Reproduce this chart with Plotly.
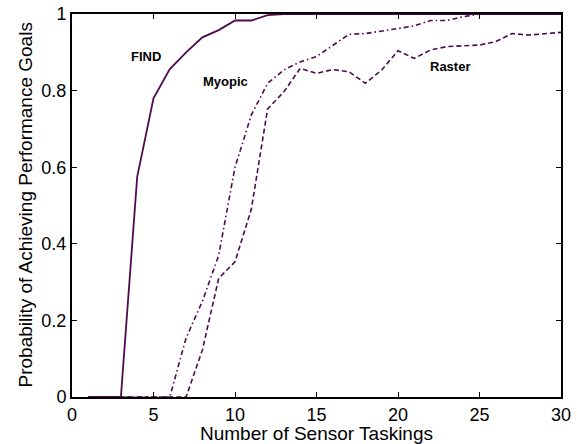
import plotly.graph_objects as go

x = list(range(1, 31))
find = [0, 0, 0, 0.575, 0.78, 0.856, 0.90, 0.939, 0.958, 0.983, 0.983, 0.997,
        1, 1, 1, 1, 1, 1, 1, 1, 1, 1, 1, 1, 1, 1, 1, 1, 1, 1]
myopic = [0, 0, 0, 0, 0, 0, 0.154, 0.25, 0.37, 0.60, 0.736, 0.819, 0.854, 0.875,
          0.889, 0.919, 0.947, 0.949, 0.955, 0.962, 0.969, 0.983, 0.983, 0.993,
          1.0, 1.0, 1.0, 1.0, 1.0, 1.0]
raster = [0, 0, 0, 0, 0, 0, 0, 0.123, 0.31, 0.353, 0.49, 0.752, 0.797, 0.858,
          0.845, 0.855, 0.849, 0.819, 0.854, 0.904, 0.884, 0.906, 0.915, 0.917,
          0.919, 0.928, 0.949, 0.945, 0.949, 0.952]

labels = ["FIND", "Myopic", "Raster"]
label_x = [4.54, 9.39, 23.2]
label_y = [0.889, 0.825, 0.862]

color = "#4d0a4d"
FONT = "Arial, Liberation Sans, sans-serif"
fig = go.Figure()
fig.add_trace(go.Scatter(x=x, y=find, mode="lines", line=dict(color=color, width=1.8, dash="solid"), name="FIND"))
fig.add_trace(go.Scatter(x=x, y=myopic, mode="lines", line=dict(color=color, width=1.6, dash="5px,3px,1.5px,3px"), name="Myopic"))
fig.add_trace(go.Scatter(x=x, y=raster, mode="lines", line=dict(color=color, width=1.6, dash="5px,3px"), name="Raster"))

for t, ax_, ay_ in zip(labels, label_x, label_y):
    fig.add_annotation(x=ax_, y=ay_, text="<b>%s</b>" % t, showarrow=False,
                       font=dict(family=FONT, size=13, color="black"))

# y-axis title placed as rotated text, left of the tick labels
fig.add_annotation(xref="paper", yref="paper", x=-47 / 489, y=0.5, xanchor="center", yanchor="middle",
                   text="Probability of Achieving Performance Goals", textangle=-90, showarrow=False,
                   font=dict(family=FONT, size=19, color="black"))

axis_common = dict(showgrid=False, zeroline=False, showline=True, linecolor="black", linewidth=2,
                   mirror="ticks", ticks="inside", ticklen=5, tickwidth=1, tickcolor="black",
                   automargin=False,
                   tickfont=dict(family=FONT, size=18, color="black"))

fig.update_layout(
    width=577, height=444,
    margin=dict(l=72, r=16, t=14, b=47),
    plot_bgcolor="white", paper_bgcolor="white",
    showlegend=False,
    font=dict(family=FONT, size=18, color="black"),
)
fig.update_xaxes(range=[0, 30], tickvals=[0, 5, 10, 15, 20, 25, 30],
                 title=dict(text="Number of Sensor Taskings",
                            font=dict(size=19)), **axis_common)
fig.update_yaxes(range=[0, 1], tickvals=[0, 0.2, 0.4, 0.6, 0.8, 1],
                 ticktext=["0", "0.2", "0.4", "0.6", "0.8", "1"], **axis_common)

fig.write_html("out.html")
